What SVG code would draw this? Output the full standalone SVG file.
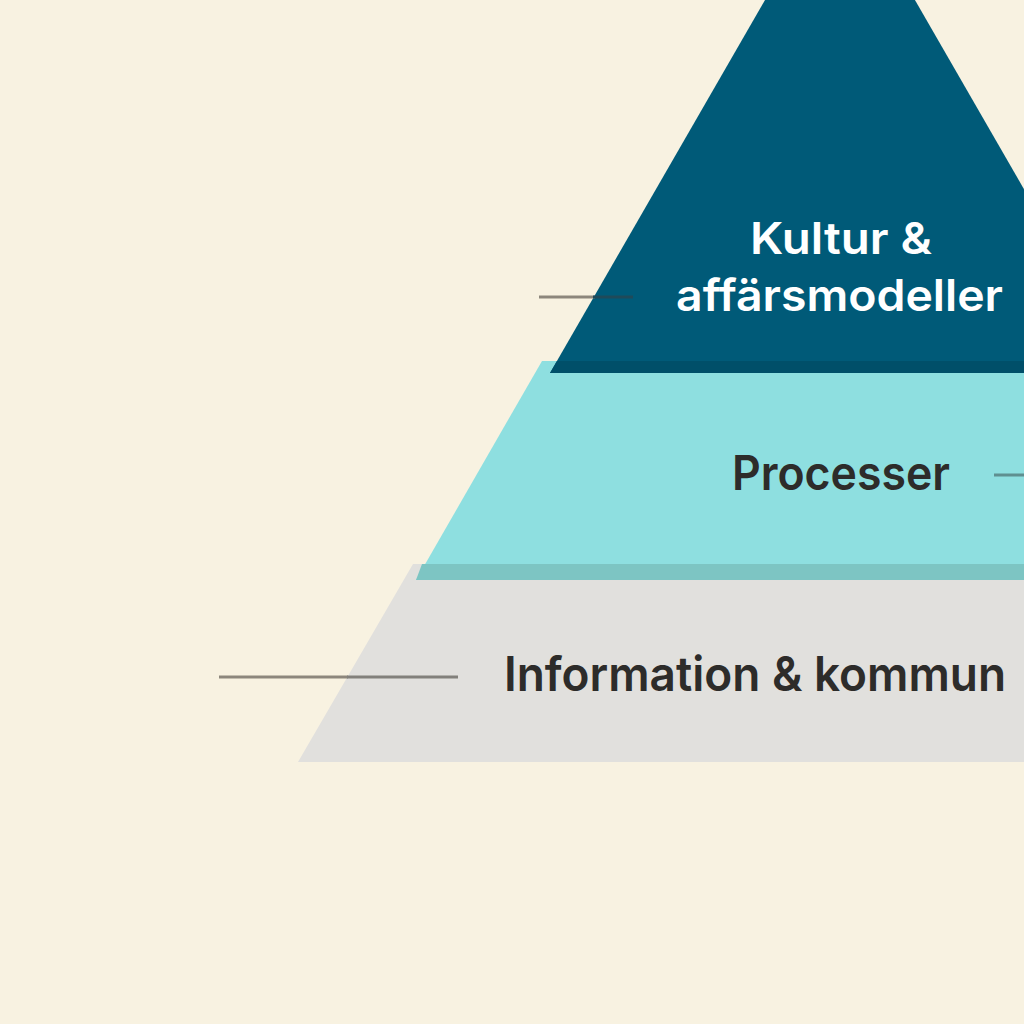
<svg xmlns="http://www.w3.org/2000/svg" width="1024" height="1024" viewBox="0 0 1024 1024">
  <style>
    .lbl { font-family: Inter, "Noto Sans", "Liberation Sans", sans-serif; font-weight: 600; }
    .dark { fill: #2d2c2a; }
    .light { fill: #ffffff; }
    .leader { stroke-width: 3; }
  </style>
  <rect x="0" y="0" width="1024" height="1024" fill="#f8f2e1"/>
  <g id="level-information">
    <polygon points="413,564 1267,564 1382,762 298,762" fill="#e1e0dd"/>
  </g>
  <g id="level-processer">
    <polygon points="542,361 1138,361 1264,580 416,580" fill="#8edfe0"/>
    <polygon points="422,564 1258,564 1264,580 416,580" fill="#7dc5c3"/>
  </g>
  <g id="level-kultur">
    <polygon points="840,-130 1130,373 550,373" fill="#005a78"/>
    <polygon points="557,361 1123,361 1130,373 550,373" fill="#004f69"/>
  </g>
  <g id="connectors">
    <line class="leader" x1="539" y1="297" x2="595" y2="297" stroke="#8d877c"/>
    <line class="leader" x1="593" y1="297" x2="633" y2="297" stroke="#1f4a5a"/>
    <line class="leader" x1="994" y1="475" x2="1030" y2="475" stroke="#5f8f90"/>
    <line class="leader" x1="219" y1="677" x2="348" y2="677" stroke="#8d877c"/>
    <line class="leader" x1="347" y1="677" x2="458" y2="677" stroke="#82807b"/>
  </g>
  <g id="labels">
    <text class="lbl light" x="750" y="254" font-size="44" textLength="182" lengthAdjust="spacingAndGlyphs">Kultur &amp;</text>
    <text class="lbl light" x="676" y="311" font-size="44" textLength="327" lengthAdjust="spacingAndGlyphs">affärsmodeller</text>
    <text class="lbl dark" x="732" y="490" font-size="48" textLength="218" lengthAdjust="spacingAndGlyphs">Processer</text>
    <text class="lbl dark" x="504" y="691" font-size="48" textLength="502" lengthAdjust="spacingAndGlyphs">Information &amp; kommun</text>
  </g>
</svg>
